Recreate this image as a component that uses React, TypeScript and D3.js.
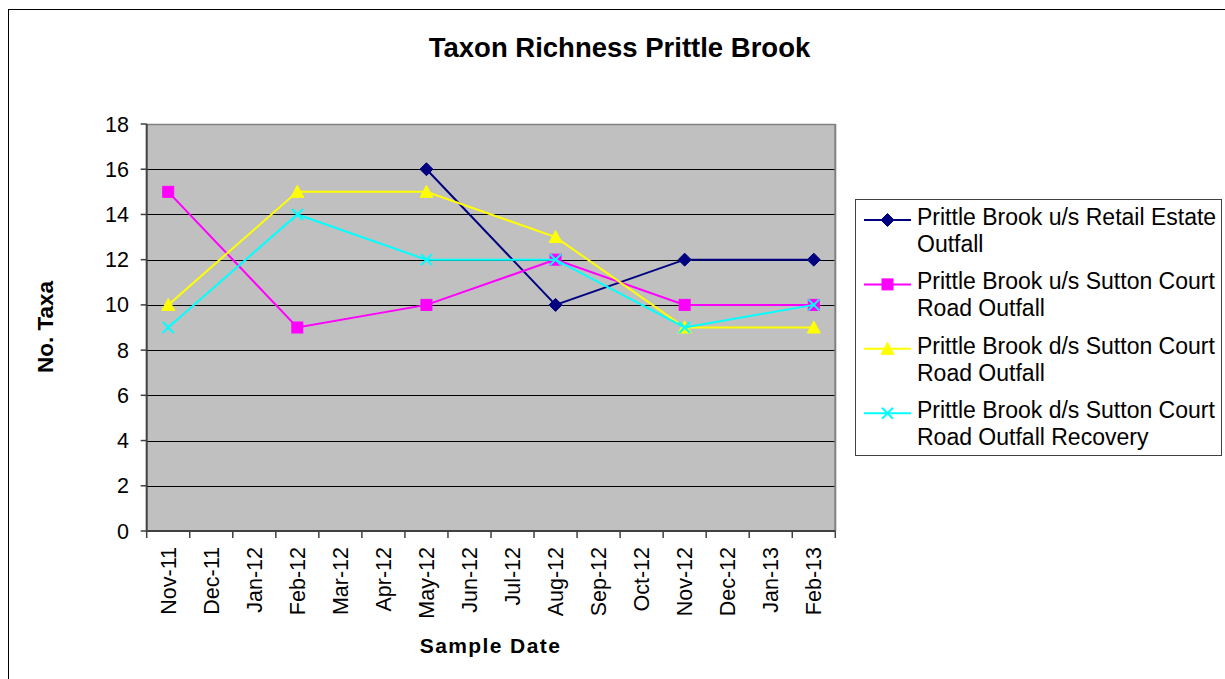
import React from "react";
import * as d3 from "d3";

const months = ["Nov-11","Dec-11","Jan-12","Feb-12","Mar-12","Apr-12","May-12","Jun-12","Jul-12","Aug-12","Sep-12","Oct-12","Nov-12","Dec-12","Jan-13","Feb-13"];
const yTicks = [0, 2, 4, 6, 8, 10, 12, 14, 16, 18];

const retailEstate: (number | null)[] = [null,null,null,null,null,null,16,null,null,10,null,null,12,null,null,12];
const usSutton: (number | null)[] = [15,null,null,9,null,null,10,null,null,12,null,null,10,null,null,10];
const dsSutton: (number | null)[] = [10,null,null,15,null,null,15,null,null,13,null,null,9,null,null,9];
const dsRecovery: (number | null)[] = [9,null,null,14,null,null,12,null,null,12,null,null,9,null,null,10];

const seriesNames = [
  ["Prittle Brook u/s Retail Estate", "Outfall"],
  ["Prittle Brook u/s Sutton Court", "Road Outfall"],
  ["Prittle Brook d/s Sutton Court", "Road Outfall"],
  ["Prittle Brook d/s Sutton Court", "Road Outfall Recovery"],
];
const seriesValues = [retailEstate, usSutton, dsSutton, dsRecovery];
const seriesColors = ["#000080", "#FF00FF", "#FFFF00", "#00FFFF"];
const seriesMarkers = ["diamond", "square", "triangle", "x"];

const FONT = "Arial, 'Liberation Sans', sans-serif";

function Marker({ kind, x, y, color }: { kind: string; x: number; y: number; color: string }) {
  if (kind === "diamond") {
    const s = 6.5;
    return <path d={`M${x},${y - s}L${x + s},${y}L${x},${y + s}L${x - s},${y}Z`} fill={color} stroke={color} strokeWidth={1} />;
  }
  if (kind === "square") {
    const s = 5.5;
    return <rect x={x - s} y={y - s} width={2 * s} height={2 * s} fill={color} stroke={color} strokeWidth={1} />;
  }
  if (kind === "triangle") {
    const s = 6.5;
    return <path d={`M${x},${y - s}L${x + s},${y + s - 1}L${x - s},${y + s - 1}Z`} fill={color} stroke={color} strokeWidth={1} />;
  }
  const s = 5.5;
  return <path d={`M${x - s},${y - s}L${x + s},${y + s}M${x + s},${y - s}L${x - s},${y + s}`} stroke={color} strokeWidth={2} fill="none" />;
}

export default function App() {
  const left = 146.7, right = 835.3, top = 124, bottom = 531;
  const x = d3.scaleBand<string>().domain(months).range([left, right]);
  const y = d3.scaleLinear().domain([0, 18]).range([bottom, top]);
  const cx = (m: string) => (x(m) as number) + x.bandwidth() / 2;
  const line = d3.line<[number, number]>().x(d => d[0]).y(d => d[1]);

  const tickXs = months.map(m => x(m) as number).concat([right]);

  return (
    <svg width={1225} height={679} style={{ position: "absolute", left: 0, top: 0, background: "#fff" }} fontFamily={FONT}>
      <rect x={8.5} y={9.5} width={1240} height={700} fill="#fff" stroke="#000" strokeWidth={1} />
      <text x={619.5} y={57} textAnchor="middle" fontWeight="bold" fontSize={27.5} fill="#000">Taxon Richness Prittle Brook</text>

      <rect x={left} y={top} width={right - left} height={bottom - top} fill="#C0C0C0" />
      {yTicks.map(t => (
        <line key={t} x1={left} x2={right} y1={Math.round(y(t)) + 0.5} y2={Math.round(y(t)) + 0.5} stroke="#000" strokeWidth={1} />
      ))}
      <line x1={left} x2={right} y1={top + 0.5} y2={top + 0.5} stroke="#808080" strokeWidth={1.5} />
      <line x1={right} x2={right} y1={top} y2={bottom} stroke="#808080" strokeWidth={2} />
      <line x1={left} x2={left} y1={top} y2={bottom + 1} stroke="#404040" strokeWidth={2} />
      <line x1={left} x2={right} y1={bottom} y2={bottom} stroke="#404040" strokeWidth={2} />

      {yTicks.map(t => (
        <g key={t}>
          <line x1={left - 6} x2={left} y1={y(t)} y2={y(t)} stroke="#404040" strokeWidth={1.5} />
          <text x={129} y={y(t) + 7.5} textAnchor="end" fontSize={21.5} fill="#000">{t}</text>
        </g>
      ))}
      {tickXs.map((tx, i) => (
        <line key={i} x1={tx} x2={tx} y1={bottom} y2={bottom + 7} stroke="#404040" strokeWidth={1.5} />
      ))}
      {months.map(m => (
        <text key={m} transform={`translate(${cx(m) + 7.5},${547}) rotate(-90)`} textAnchor="end" fontSize={21.5} fill="#000">{m}</text>
      ))}

      <text transform={`translate(53,${327}) rotate(-90)`} textAnchor="middle" fontWeight="bold" fontSize={22.5} fill="#000">No. Taxa</text>
      <text x={490.5} y={653} textAnchor="middle" fontWeight="bold" fontSize={21} letterSpacing={1.4} fill="#000">Sample Date</text>

      {seriesValues.map((vals, si) => {
        const pts: [number, number][] = [];
        vals.forEach((v, i) => { if (v !== null) pts.push([cx(months[i]), y(v)]); });
        return (
          <g key={si}>
            <path d={line(pts) || ""} fill="none" stroke={seriesColors[si]} strokeWidth={2} />
            {pts.map((p, j) => <Marker key={j} kind={seriesMarkers[si]} x={p[0]} y={p[1]} color={seriesColors[si]} />)}
          </g>
        );
      })}

      <rect x={855.5} y={199.5} width={366} height={256} fill="#fff" stroke="#404040" strokeWidth={1} />
      {seriesNames.map((nm, i) => {
        const base = 225 + i * 64.4;
        const my = base - 5;
        return (
          <g key={i}>
            <line x1={864} x2={911} y1={my} y2={my} stroke={seriesColors[i]} strokeWidth={2} />
            <Marker kind={seriesMarkers[i]} x={887.5} y={my} color={seriesColors[i]} />
            <text x={917} y={base} fontSize={23} fill="#000">{nm[0]}</text>
            <text x={917} y={base + 26.7} fontSize={23} fill="#000">{nm[1]}</text>
          </g>
        );
      })}
    </svg>
  );
}
